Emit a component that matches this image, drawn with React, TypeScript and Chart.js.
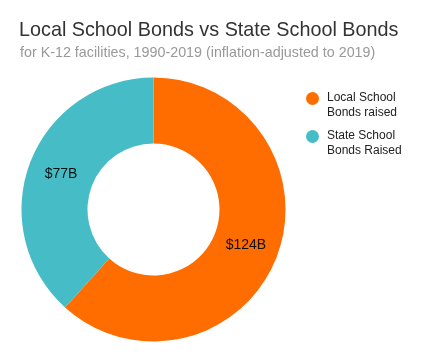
import React, { useEffect, useRef } from "react";
import { Chart, registerables } from "chart.js";

Chart.register(...registerables);

const title = "Local School Bonds vs State School Bonds";
const subtitle = "for K-12 facilities, 1990-2019 (inflation-adjusted to 2019)";
const categories = [["Local School", "Bonds raised"], ["State School", "Bonds Raised"]];
const values = [124, 77];
const valueLabels = ["$124B", "$77B"];
const colors = ["#FF6D01", "#46BDC6"];

const sliceLabelPlugin = {
  id: "sliceLabels",
  afterDatasetsDraw(chart: any) {
    const ctx = chart.ctx;
    const meta = chart.getDatasetMeta(0);
    ctx.save();
    ctx.font = "14px 'Liberation Sans', Arial, sans-serif";
    ctx.fillStyle = "#111";
    ctx.textAlign = "center";
    ctx.textBaseline = "middle";
    meta.data.forEach((arc: any, i: number) => {
      const p = arc.tooltipPosition();
      ctx.fillText(valueLabels[i], p.x, p.y);
    });
    ctx.restore();
  },
};

export default function App() {
  const ref = useRef<HTMLCanvasElement>(null);
  useEffect(() => {
    const chart = new Chart(ref.current!, {
      type: "doughnut",
      data: {
        labels: categories.map((c) => c.join(" ")),
        datasets: [
          {
            data: values,
            backgroundColor: colors,
            borderWidth: 0,
          },
        ],
      },
      options: {
        animation: false,
        responsive: false,
        cutout: "50%",
        layout: { padding: { left: 21.5, right: 138.5, top: 77.5, bottom: 19.5 } },
        plugins: {
          legend: { display: false },
          tooltip: { enabled: false },
        },
      },
      plugins: [sliceLabelPlugin],
    });
    return () => chart.destroy();
  }, []);

  const font = "'Liberation Sans', Arial, sans-serif";
  return (
    <div style={{ position: "fixed", left: 0, top: 0, width: 424, height: 361, background: "#fff", fontFamily: font }}>
      <canvas ref={ref} width={424} height={361} style={{ position: "absolute", left: 0, top: 0 }} />
      <div style={{ position: "absolute", left: 19, top: 18, fontSize: 19.8, color: "#333", whiteSpace: "nowrap" }}>{title}</div>
      <div style={{ position: "absolute", left: 20, top: 44, fontSize: 14.3, color: "#999", whiteSpace: "nowrap" }}>{subtitle}</div>
      {categories.map((c, i) => (
        <div key={i} style={{ position: "absolute", left: 306, top: 90 + i * 38, display: "flex", alignItems: "flex-start" }}>
          <span style={{ width: 13, height: 13, borderRadius: "50%", background: colors[i], marginTop: 2, marginRight: 8, flex: "none" }} />
          <span style={{ fontSize: 12, lineHeight: "15px", color: "#222" }}>
            {c[0]}
            <br />
            {c[1]}
          </span>
        </div>
      ))}
    </div>
  );
}
